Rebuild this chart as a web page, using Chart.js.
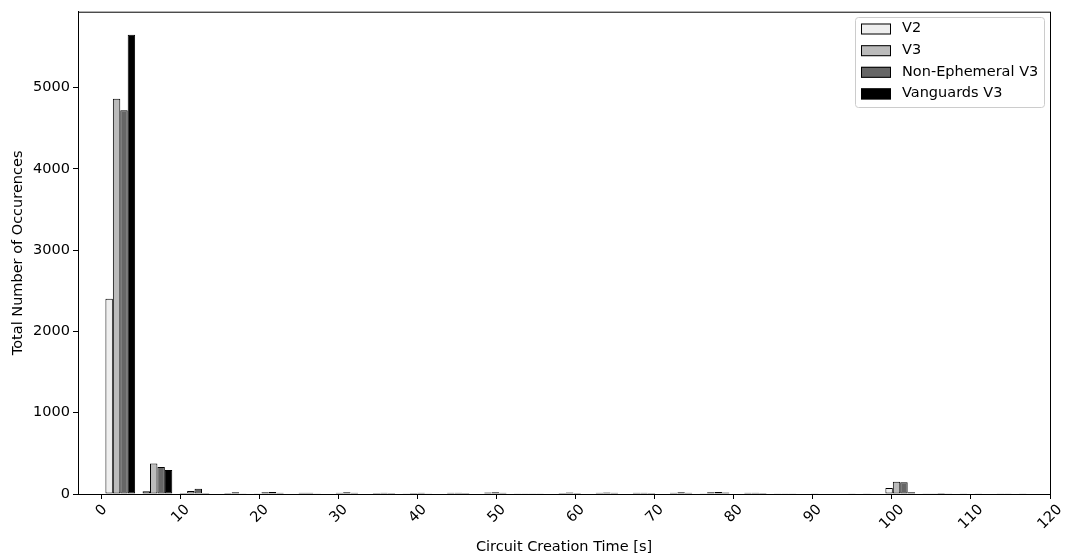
<!DOCTYPE html>
<html>
<head>
<meta charset="utf-8">
<script src="https://cdn.jsdelivr.net/npm/chart.js@4.4.0/dist/chart.umd.min.js"></script>
<style>
  html,body{margin:0;padding:0;background:#fff;}
  #wrap{width:1068px;height:557px;}
</style>
</head>
<body>
<div id="wrap"><canvas id="chart" width="1068" height="557"></canvas></div>
<script>
// ================== Data ==================
// histogram bin centres (bin width ~4.7 s)
const binCenters = [2.35, 7.05, 11.75, 16.45, 21.15, 25.85, 30.55, 35.25, 39.95, 44.65, 49.35, 54.05,
  58.75, 63.45, 68.15, 72.85, 77.55, 82.25, 86.95, 91.65, 96.35, 101.05, 105.75, 110.45, 115.15];

const v2Counts        = [2400, 33, 12, 5, 8, 5, 6, 5, 4, 5, 6, 3, 5, 6, 5, 6, 8, 5, 3, 3, 4, 74, 4, 3, 2];
const v3Counts        = [4860, 376, 37, 12, 22, 14, 15, 12, 12, 14, 18, 10, 12, 16, 15, 16, 20, 14, 8, 6, 6, 151, 10, 6, 4];
const nonEphCounts    = [4720, 331, 65, 20, 25, 15, 20, 15, 15, 15, 20, 10, 18, 18, 16, 20, 25, 15, 8, 7, 8, 145, 12, 8, 5];
const vanguardsCounts = [5650, 294, 12, 10, 15, 10, 15, 12, 10, 12, 15, 8, 12, 14, 12, 14, 18, 12, 6, 5, 5, 20, 8, 5, 3];

const seriesNames  = ["V2", "V3", "Non-Ephemeral V3", "Vanguards V3"];
const seriesColors = ["#eeeeee", "#bbbbbb", "#666666", "#000000"];

const xTicks = [0, 10, 20, 30, 40, 50, 60, 70, 80, 90, 100, 110, 120];
const yTicks = [0, 1000, 2000, 3000, 4000, 5000];
const xMin = -3, xMax = 120, yMax = 5932;

const FONT = "'DejaVu Sans', 'Liberation Sans', sans-serif";
const FSIZE = 14.5;

// ================== Helpers ==================
function toPoints(vals){ return binCenters.map((x,i)=>({x:x, y:vals[i]})); }

function roundRectPath(ctx,x,y,w,h,r){
  ctx.beginPath();
  ctx.moveTo(x+r,y);
  ctx.lineTo(x+w-r,y); ctx.arcTo(x+w,y,x+w,y+r,r);
  ctx.lineTo(x+w,y+h-r); ctx.arcTo(x+w,y+h,x+w-r,y+h,r);
  ctx.lineTo(x+r,y+h); ctx.arcTo(x,y+h,x,y+h-r,r);
  ctx.lineTo(x,y+r); ctx.arcTo(x,y,x+r,y,r);
  ctx.closePath();
}

// =============== Decorations (spines, rotated ticks, titles, legend) ===============
const decorations = {
  id: "decorations",
  afterDraw(chart){
    const ctx = chart.ctx;
    const a = chart.chartArea;
    const xs = chart.scales.x;
    ctx.save();

    // full box spines
    ctx.strokeStyle = "#000";
    ctx.lineWidth = 1;
    ctx.strokeRect(a.left+0.5, a.top+0.5, a.right-a.left, a.bottom-a.top);

    // x tick labels, rotated 45deg around their centre
    ctx.fillStyle = "#000";
    ctx.font = FSIZE + "px " + FONT;
    ctx.textAlign = "center";
    ctx.textBaseline = "middle";
    xTicks.forEach(v=>{
      const label = String(v);
      const px = xs.getPixelForValue(v);
      const w = ctx.measureText(label).width;
      const ext = (w + 15) * Math.SQRT1_2;
      const cy = a.bottom + 5 + 3 + ext/2;
      ctx.save();
      ctx.translate(px, cy);
      ctx.rotate(-Math.PI/4);
      ctx.fillText(label, 0, 0);
      ctx.restore();
    });

    // axis titles
    ctx.fillText("Circuit Creation Time [s]", (a.left+a.right)/2, 547);
    ctx.save();
    ctx.translate(18, (a.top+a.bottom)/2);
    ctx.rotate(-Math.PI/2);
    ctx.fillText("Total Number of Occurences", 0, 0);
    ctx.restore();

    // legend
    const lx = 855, ly = 17, lw = 189, lh = 90;
    roundRectPath(ctx, lx+0.5, ly+0.5, lw, lh, 3);
    ctx.fillStyle = "rgba(255,255,255,0.8)";
    ctx.fill();
    ctx.strokeStyle = "#cccccc";
    ctx.stroke();
    const rows = [28.5, 50.2, 71.8, 93.4];
    ctx.textAlign = "left";
    seriesNames.forEach((name,i)=>{
      const cy = rows[i];
      ctx.fillStyle = seriesColors[i];
      ctx.fillRect(861, cy-5, 30, 11);
      ctx.strokeStyle = "#000";
      ctx.strokeRect(861.5, cy-4.5, 29, 10);
      ctx.fillStyle = "#000";
      ctx.fillText(name, 902, cy);
    });

    ctx.restore();
  }
};

// =============== Chart ===============
const datasets = [v2Counts, v3Counts, nonEphCounts, vanguardsCounts].map((vals,i)=>({
  label: seriesNames[i],
  data: toPoints(vals),
  backgroundColor: seriesColors[i],
  borderColor: "#000",
  borderWidth: 1,
  borderSkipped: false,
  barPercentage: 1.0,
  categoryPercentage: 0.8
}));

new Chart(document.getElementById("chart").getContext("2d"), {
  type: "bar",
  data: { datasets },
  options: {
    responsive: false,
    animation: false,
    devicePixelRatio: 1,
    layout: { padding: { top: 10, right: 18, left: 0, bottom: 0 } },
    plugins: { legend: { display: false }, tooltip: { enabled: false } },
    scales: {
      x: {
        type: "linear",
        min: xMin, max: xMax,
        offset: false,
        afterBuildTicks: s => { s.ticks = xTicks.map(v=>({value:v})); },
        afterFit: s => { s.height = 63; },
        ticks: { display: false },
        grid: { drawOnChartArea: false, drawTicks: true, tickLength: 5, tickColor: "#000", offset: false },
        border: { display: true, color: "#000", width: 1 }
      },
      y: {
        type: "linear",
        min: 0, max: yMax,
        afterBuildTicks: s => { s.ticks = yTicks.map(v=>({value:v})); },
        afterFit: s => { s.width = 78; },
        ticks: { color: "#000", padding: 3, font: { family: FONT, size: FSIZE }, callback: v => String(v) },
        grid: { drawOnChartArea: false, drawTicks: true, tickLength: 5, tickColor: "#000" },
        border: { display: true, color: "#000", width: 1 }
      }
    }
  },
  plugins: [decorations]
});
</script>
</body>
</html>
